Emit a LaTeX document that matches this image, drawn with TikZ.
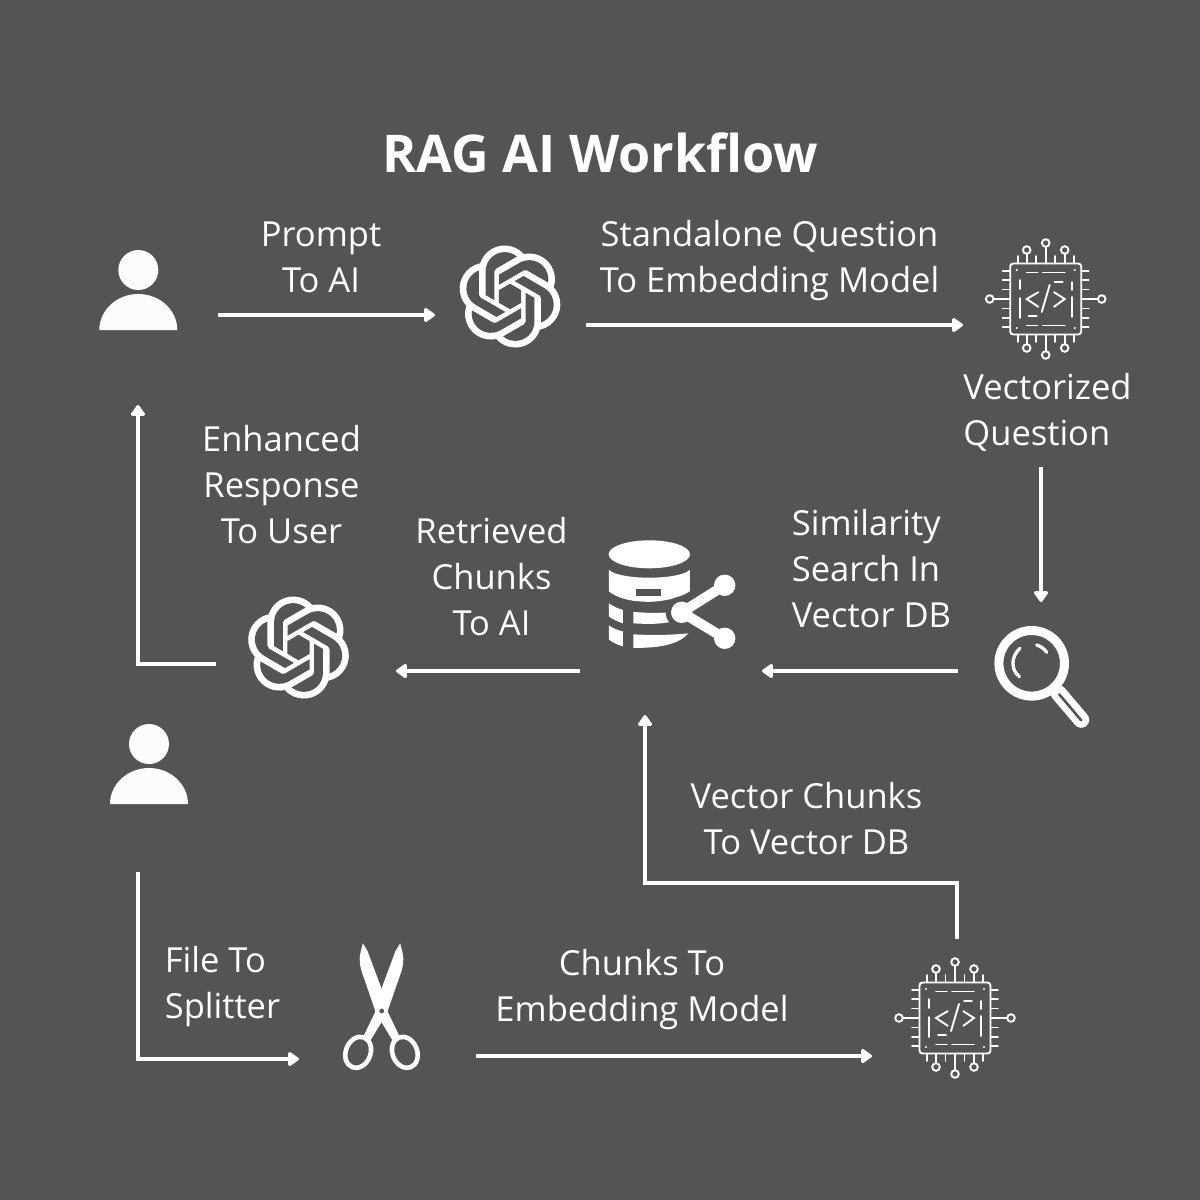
\documentclass[tikz,border=0pt]{standalone}
\usepackage{fontspec}
\setmainfont{Open Sans}
\usetikzlibrary{svg.path,arrows.meta}
\definecolor{bg}{HTML}{545454}
\definecolor{fg}{HTML}{FFFFFF}
\tikzset{
 lbl/.style={text=fg,font=\fontsize{34.5}{46}\selectfont,align=center,inner sep=0pt},
 titlelbl/.style={text=fg,font=\fontsize{52}{60}\selectfont\bfseries,inner sep=0pt},
 conn/.style={draw=fg,line width=3.8pt,-{Triangle[length=12pt,width=16pt,round]},line join=miter},
 person/.pic={
  \fill[fg!98!bg] (0,0) circle (20);
  \fill[fg!98!bg] (-39,60) .. controls (-39,40.1) and (-21.5,24) .. (0,24) .. controls (21.5,24) and (39,40.1) .. (39,60) -- cycle;
 },
 knot/.pic={
  \begin{scope}[xscale=4.25,yscale=-4.25,shift={(-12pt,-12pt)}]
  \fill[fg] svg {M22.2819 9.8211a5.9847 5.9847 0 0 0-.5157-4.9108 6.0462 6.0462 0 0 0-6.5098-2.9A6.0651 6.0651 0 0 0 4.9807 4.1818a5.9847 5.9847 0 0 0-3.9977 2.9 6.0462 6.0462 0 0 0 .7427 7.0966 5.98 5.98 0 0 0 .511 4.9107 6.051 6.051 0 0 0 6.5146 2.9001A5.9847 5.9847 0 0 0 13.2599 24a6.0557 6.0557 0 0 0 5.7718-4.2058 5.9894 5.9894 0 0 0 3.9977-2.9001 6.0557 6.0557 0 0 0-.7475-7.0729z};
  \foreach \i in {0,60,...,300}{
   \begin{scope}[shift={(12.008pt,11.997pt)},rotate=\i,shift={(-12.008pt,-11.997pt)}]
   \fill[bg] svg {M13.2599 22.4292a4.4755 4.4755 0 0 1-2.8764-1.0408l.1419-.0804 4.7783-2.7582a.7948.7948 0 0 0 .3927-.6813v-6.7369l2.02 1.1686a.071.071 0 0 1 .038.052v5.5826a4.504 4.504 0 0 1-4.4945 4.4944z};
   \end{scope}
  }
  \fill[bg] svg {M9.4041 10.4976l2.602-1.4998 2.6069 1.4998v2.9994l-2.5974 1.4997-2.6067-1.4997Z};
  \end{scope}
 },
 chip/.pic={
  \begin{scope}[draw=fg,line width=1.9pt,line cap=round]
  \draw[rounded corners=3pt] (-35.5,-35.5) rectangle (35.5,35.5);
  \foreach \s in {-1,1}{
   \foreach \p in {-28,-19,-9.5,9.5,19,28}{
    \ifdim\p pt=-19pt\else\ifdim\p pt=19pt\else
    \draw (\p,\s*35.5) -- (\p,\s*43);
    \fi\fi
    \draw (\s*35.5,\p) -- (\s*43,\p);
   }
   \draw (-19,\s*35.5) -- (-19,\s*45);
   \draw (19,\s*35.5) -- (19,\s*45);
   \draw (-19,\s*49) circle (3.8);
   \draw (19,\s*49) circle (3.8);
   \draw (0,\s*35.5) -- (0,\s*52);
   \draw (0,\s*56) circle (3.8);
   \draw (\s*35.5,0) -- (\s*52,0);
   \draw (\s*56,0) circle (3.8);
   \fill[fg] (-29,\s*29) circle (1.1);
   \fill[fg] (29,\s*29) circle (1.1);
   \draw (-19,\s*26.5) -- (-8,\s*26.5);
   \draw (-3,\s*26.5) -- (19,\s*26.5);
  }
  \draw (26,-17) -- (26,-9); \draw (26,-2) -- (26,18);
  \draw (-26,-19) -- (-26,-10); \draw (-26,-1) -- (-26,19);
  \draw (9,-17) -- (17,-17); \draw (-17,17) -- (-9,17);
  \draw[line cap=butt,miter limit=10] (-7,-7) -- (-19,0) -- (-7,8);
  \draw[line cap=butt,miter limit=10] (8,-7) -- (19,0) -- (8,8);
  \draw (4,-14) -- (-4,13);
  \end{scope}
 },
 dbicon/.pic={
  \fill[fg] (0,0) ellipse (40.7 and 14);
  % band 2
  \fill[fg] (-40.5,15.5) .. controls (-30,26) and (30,26) .. (40.5,15.5) -- (40.5,37) .. controls (30,44) and (12,47.5) .. (0,47.5) .. controls (-18,47.5) and (-32,44) .. (-40.5,37) -- cycle;
  \fill[bg] (-13,35) rectangle (12,41.5);
  % band 3
  \fill[fg] (-40.5,49) .. controls (-36,52) and (-32,54) .. (-26.5,55.5) -- (-26.5,69) .. controls (-32,67) and (-37,65) .. (-40.5,62) -- cycle;
  \fill[fg] (-16,57.5) .. controls (0,59) and (10,59) .. (25,57.5) -- (25,67) .. controls (10,70) and (0,70) .. (-16,69) -- cycle;
  % band 4
  \fill[fg] (-40.5,71) .. controls (-36,74) and (-32,76) .. (-26.5,77) -- (-26.5,92) .. controls (-32,90.5) and (-37,88) .. (-40.5,85) -- cycle;
  \fill[fg] (-16,80) .. controls (0,81) and (20,81) .. (39,79) .. controls (30,90) and (10,94) .. (-16,93.5) -- cycle;
 },
 sharesym/.pic={
  \draw[bg,line width=18pt,line cap=round] (0,0) -- (43,-27);
  \draw[bg,line width=18pt,line cap=round] (0,0) -- (43,26);
  \fill[bg] (0,0) circle (16);
  \draw[fg,line width=10pt] (0,0) -- (43,-27);
  \draw[fg,line width=10pt] (0,0) -- (43,26);
  \fill[fg] (0,0) circle (10.7);
  \fill[fg] (43,-27) circle (10.7);
  \fill[fg] (43,26) circle (10.7);
 },
 halfscissors/.pic={
  \begin{scope}[x=0.3333pt,y=-0.3333pt]
  \fill[fg] (56,-203) .. controls (68,-160) and (68,-150) .. (60,-120) -- (16,7) -- (12,14) -- (-36,93) -- (-56,80) -- (-20,5) -- (-12,-35) -- (42,-180) -- cycle;
  \draw[fg,line width=4.6pt,rotate around={-22:(-70,124)}] (-70,124) ellipse (37 and 48);
  \end{scope}
 },
 lens/.pic={
  \draw[fg,line width=9pt] (0,0) circle (32.8);
  \draw[fg,line width=3.3pt,line cap=round] (-11.7,-15) .. controls (-21,-7) and (-21,7) .. (-12.3,13.3);
  \draw[fg,line width=3.3pt,line cap=round] (5,-18.3) .. controls (9,-17) and (12,-15) .. (15,-11);
  \draw[fg,line width=16pt,line cap=round] (27,30) -- (49.5,56.5);
  \draw[bg,line width=2.6pt,line cap=round] (27.5,31) -- (49.5,57);
 },
}
\begin{document}
\begin{tikzpicture}[x=1pt,y=-1pt]
\useasboundingbox (0,0) rectangle (1200,1200);
\fill[bg] (0,0) rectangle (1200,1200);

\node[titlelbl] (title) at (600.5,153) {RAG AI Workflow};

\node[lbl] (tPrompt) at (321,257.5) {Prompt\\To AI};
\node[lbl] (tStand) at (769.5,260.5) {Standalone Question\\To Embedding Model};
\node[lbl,align=left] (tVec) at (1047.5,412.5) {Vectorized\\Question};
\node[lbl] (tEnh) at (281.5,485) {Enhanced\\Response\\To User};
\node[lbl] (tRet) at (491.5,577) {Retrieved\\Chunks\\To AI};
\node[lbl,align=left] (tSim) at (871.5,569) {Similarity\\Search In\\Vector DB};
\node[lbl] (tVC) at (806.5,819) {Vector Chunks\\To Vector DB};
\node[lbl,align=left] (tFile) at (222.5,987) {File To\\Splitter};
\node[lbl] (tCh) at (642,990) {Chunks To\\Embedding Model};

\pic at (138.3,270) {person};
\pic at (149,744) {person};
\pic at (510,296.5) {knot};
\pic at (298.5,647.5) {knot};
\pic at (1045.7,299) {chip};
\pic at (955,1018) {chip};
\pic at (649.3,554.3) {dbicon};
\pic at (681.7,612.3) {sharesym};
\pic at (1031.7,663.3) {lens};
\begin{scope}[shift={(381.5,1011)}]
 \pic[xscale=-1] at (0,0) {halfscissors};
 \pic at (0,0) {halfscissors};
\end{scope}
\fill[bg] (381.7,1011) circle (2.4);

\coordinate (a1s) at (218,315); \coordinate (a1e) at (435,315);
\coordinate (a2s) at (586,325); \coordinate (a2e) at (963,325);
\coordinate (a3s) at (1041,467); \coordinate (a3e) at (1041,602);
\coordinate (a4s) at (958,671); \coordinate (a4e) at (762,671);
\coordinate (a5s) at (580,671); \coordinate (a5e) at (396,671);
\coordinate (a6s) at (216,664); \coordinate (a6m) at (138,664); \coordinate (a6e) at (138,405);
\coordinate (a7s) at (957,939); \coordinate (a7m) at (957,883); \coordinate (a7n) at (645,883); \coordinate (a7e) at (645,715);
\coordinate (a8s) at (138,872); \coordinate (a8m) at (138,1059); \coordinate (a8e) at (299,1059);
\coordinate (a9s) at (476,1056); \coordinate (a9e) at (872,1056);

\draw[conn] (a1s) -- (a1e);
\draw[conn] (a2s) -- (a2e);
\draw[conn] (a3s) -- (a3e);
\draw[conn] (a4s) -- (a4e);
\draw[conn] (a5s) -- (a5e);
\draw[conn] (a6s) -- (a6m) -- (a6e);
\draw[conn] (a7s) -- (a7m) -- (a7n) -- (a7e);
\draw[conn] (a8s) -- (a8m) -- (a8e);
\draw[conn] (a9s) -- (a9e);
\end{tikzpicture}
\end{document}
